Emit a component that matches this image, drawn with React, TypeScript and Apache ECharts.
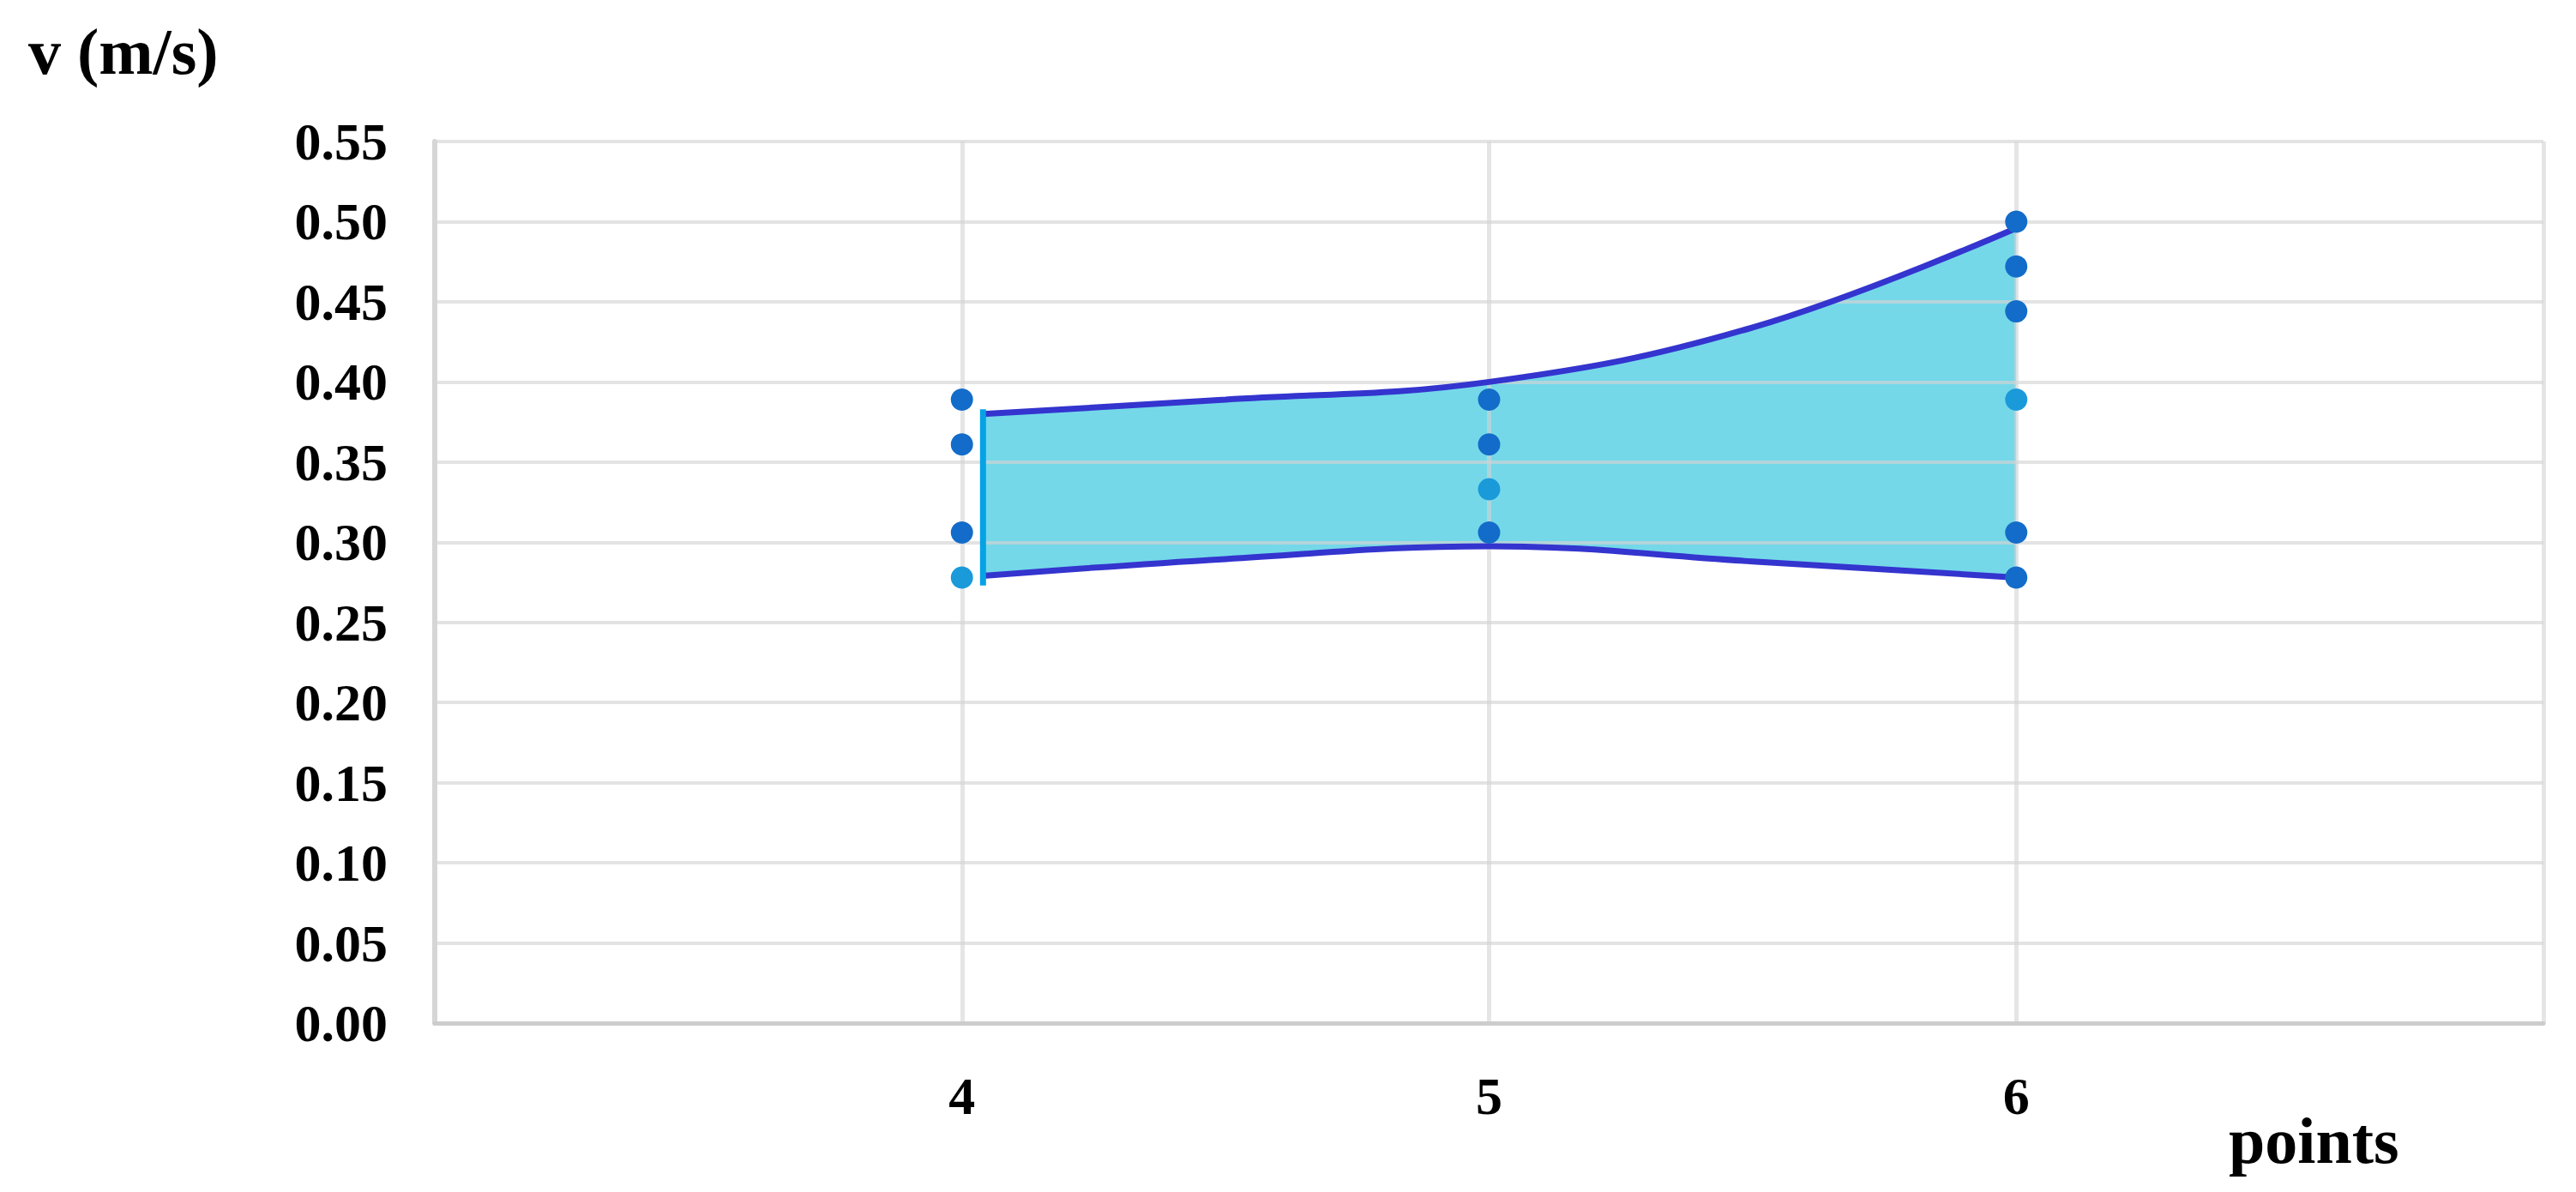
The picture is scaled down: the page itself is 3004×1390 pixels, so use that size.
import React, { useEffect, useRef } from "react";
import * as echarts from "echarts";

// ---- data ----
const yTicks = [0, 0.05, 0.1, 0.15, 0.2, 0.25, 0.3, 0.35, 0.4, 0.45, 0.5, 0.55];
const xTickLabels = [4, 5, 6];

// boundary curves of the shaded band
const curveX = [4.04, 4.5, 5, 5.5, 6];
const upperV = [0.38, 0.389, 0.4, 0.434, 0.496];
const lowerV = [0.279, 0.2895, 0.2975, 0.288, 0.278];

// measured points (dark markers)
const darkX = [4, 4, 4, 5, 5, 5, 6, 6, 6, 6, 6];
const darkY = [0.389, 0.361, 0.306, 0.389, 0.361, 0.306, 0.5, 0.472, 0.444, 0.306, 0.278];
// measured points (light markers)
const lightX = [4, 5, 6];
const lightY = [0.278, 0.333, 0.389];

const yTitle = "v (m/s)";
const xTitle = "points";

const FONT = "Liberation Serif";

export default function App() {
  const ref = useRef<HTMLDivElement>(null);

  useEffect(() => {
    if (!ref.current) return;
    const chart = echarts.init(ref.current, undefined, { renderer: "svg" });
    const smooth = 0.4;
    const bandBase = Math.min(...lowerV) - 0.003;
    const option: any = {
      animation: false,
      backgroundColor: "#ffffff",
      grid: { left: 507, right: 38, top: 165, bottom: 197, containLabel: false },
      xAxis: {
        type: "value",
        min: 3,
        max: 7,
        interval: 1,
        z: 2,
        axisLine: { show: true, lineStyle: { color: "#cccccc", width: 5 } },
        axisTick: { show: false },
        axisLabel: {
          margin: 54,
          fontFamily: FONT,
          fontWeight: "bold",
          fontSize: 62,
          color: "#000",
          formatter: (v: number) => (xTickLabels.includes(v) ? String(v) : ""),
        },
        splitLine: { show: true, lineStyle: { color: "rgba(212,212,212,0.6)", width: 5 } },
      },
      yAxis: {
        type: "value",
        min: 0,
        max: yTicks[yTicks.length - 1],
        interval: 0.05,
        z: 2,
        axisLine: { show: true, lineStyle: { color: "#d6d6d6", width: 6 } },
        axisTick: { show: false },
        axisLabel: {
          margin: 55,
          fontFamily: FONT,
          fontWeight: "bold",
          fontSize: 62,
          color: "#000",
          formatter: (v: number) => v.toFixed(2),
        },
        splitLine: { show: true, lineStyle: { color: "rgba(212,212,212,0.65)", width: 4 } },
      },
      graphic: [
        {
          type: "text",
          left: 33,
          top: 22,
          style: { text: yTitle, fontFamily: FONT, fontWeight: "bold", fontSize: 76, fill: "#000" },
        },
        {
          type: "text",
          left: 2599,
          top: 1292,
          style: { text: xTitle, fontFamily: FONT, fontWeight: "bold", fontSize: 76, fill: "#000" },
        },
      ],
      series: [
        // cyan fill under the upper curve (down to just below the band)
        {
          type: "line",
          smooth,
          symbol: "none",
          silent: true,
          z: 1,
          lineStyle: { width: 0, opacity: 0 },
          areaStyle: { color: "#74d8e9", opacity: 1, origin: bandBase },
          data: curveX.map((x, i) => [x, upperV[i]]),
        },
        // white fill under the lower curve (gridlines are drawn above it)
        {
          type: "line",
          smooth,
          symbol: "none",
          silent: true,
          z: 1.5,
          lineStyle: { width: 0, opacity: 0 },
          areaStyle: { color: "#ffffff", opacity: 1, origin: bandBase - 0.01 },
          data: curveX.map((x, i) => [x, lowerV[i]]),
        },
        {
          type: "line",
          smooth,
          symbol: "none",
          z: 3,
          lineStyle: { color: "#3434cf", width: 7 },
          data: curveX.map((x, i) => [x, upperV[i]]),
        },
        {
          type: "line",
          smooth,
          symbol: "none",
          z: 3,
          lineStyle: { color: "#3434cf", width: 7 },
          data: curveX.map((x, i) => [x, lowerV[i]]),
        },
        {
          type: "line",
          symbol: "none",
          z: 3,
          lineStyle: { color: "#05a3e6", width: 7 },
          data: [
            [curveX[0], lowerV[0] - 0.006],
            [curveX[0], upperV[0] + 0.003],
          ],
        },
        {
          type: "scatter",
          symbol: "circle",
          symbolSize: 26,
          z: 4,
          itemStyle: { color: "#136cc9", opacity: 1 },
          data: darkX.map((x, i) => [x, darkY[i]]),
        },
        {
          type: "scatter",
          symbol: "circle",
          symbolSize: 26,
          z: 4,
          itemStyle: { color: "#1b9ada", opacity: 1 },
          data: lightX.map((x, i) => [x, lightY[i]]),
        },
      ],
    };
    chart.setOption(option);
    return () => chart.dispose();
  }, []);

  return (
    <div
      ref={ref}
      style={{ position: "fixed", left: 0, top: 0, width: 3004, height: 1390, background: "#fff" }}
    />
  );
}
